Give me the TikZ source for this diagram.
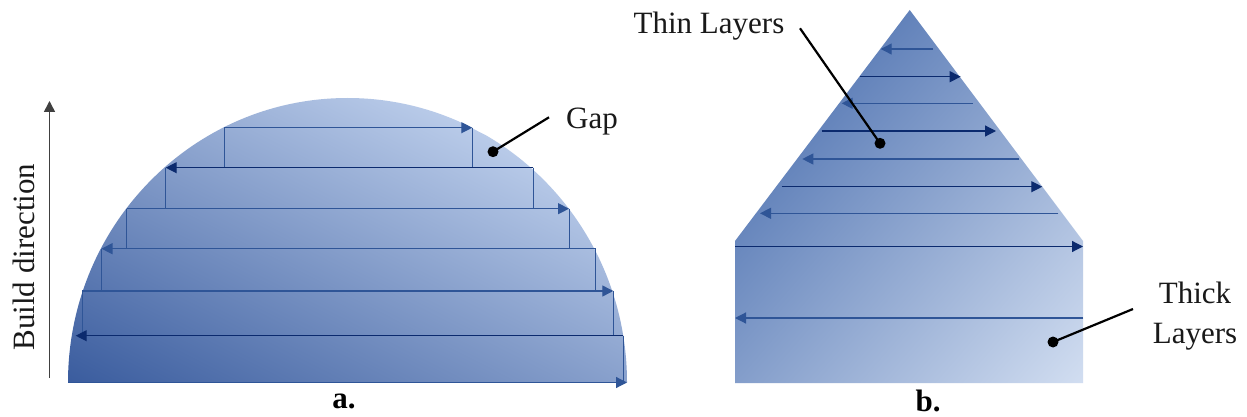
\documentclass[tikz,border=0pt]{standalone}
\usepackage{fontspec}
\setmainfont{Liberation Serif}
\usetikzlibrary{arrows.meta}
\definecolor{navyline}{HTML}{0B2A6E}
\definecolor{midline}{HTML}{2F5597}
\definecolor{aStart}{HTML}{3A5C9E}
\definecolor{aEnd}{HTML}{B9CBE9}
\definecolor{bStart}{HTML}{6282BA}
\definecolor{bEnd}{HTML}{D2DEF1}
\tikzset{
  navytrack/.style={draw=navyline,line width=1.2pt,-{Triangle[length=11pt,width=11pt]}},
  midtrack/.style={draw=midline,line width=1.2pt,-{Triangle[length=11pt,width=11pt]}},
  riser/.style={draw=midline,line width=1pt},
  leader/.style={draw=black,line width=2.2pt},
  dot/.style={circle,fill=black,inner sep=0pt,minimum size=11pt},
  lbl/.style={font=\fontsize{31}{31}\selectfont,inner sep=0pt,text=black!90},
  figcap/.style={font=\fontsize{31}{31}\selectfont\bfseries,inner sep=0pt},
}
\begin{document}
\begin{tikzpicture}[x=1pt,y=-1pt]
\useasboundingbox (0,0) rectangle (1247,417);
\fill[white] (0,0) rectangle (1247,417);
% --- dome a
\begin{scope}
  \clip (68,382.5) arc[start angle=180,end angle=0,x radius=279.5pt,y radius=284.5pt] -- cycle;
  \shade[transform canvas={rotate around={63:(68,382.5)}},left color=aStart,right color=aEnd]
    (68,-400) rectangle (478,1100);
\end{scope}
% risers a
\draw[riser] (623.3,382.5) -- (623.3,335.7);
\draw[riser] (82.3,335.7) -- (82.3,291);
\draw[riser] (613.3,291) -- (613.3,335.7);
\draw[riser] (595.7,248.7) -- (595.7,291);
\draw[riser] (101.5,248.7) -- (101.5,291);
\draw[riser] (126.7,208.7) -- (126.7,248.7);
\draw[riser] (569,208.7) -- (569,248.7);
\draw[riser] (533.3,167.7) -- (533.3,208.7);
\draw[riser] (165.7,167.7) -- (165.7,208.7);
\draw[riser] (224.3,127.7) -- (224.3,167.7);
\draw[riser] (472.3,127.7) -- (472.3,167.7);
% tracks a
\draw[midtrack] (68,382.5) -- (627,382.5);
\draw[navytrack] (623.3,335.7) -- (75.7,335.7);
\draw[midtrack] (82.3,291) -- (613.3,291);
\draw[midtrack] (595.7,248.7) -- (101.5,248.7);
\draw[midtrack] (126.7,208.7) -- (569,208.7);
\draw[navytrack] (533.3,167.7) -- (165.7,167.7);
\draw[midtrack] (224.3,127.7) -- (472.3,127.7);
% --- spire b
\begin{scope}
  \clip (909.7,10) -- (1083,241) -- (1083,383) -- (735,383) -- (735,241) -- cycle;
  \shade[transform canvas={rotate around={-41:(909.7,10)}},left color=bStart,right color=bEnd]
    (909.7,-600) rectangle (1286,900);
\end{scope}
\draw[midtrack] (933.3,49) -- (880.7,49);
\draw[navytrack] (860,76.7) -- (960.7,76.7);
\draw[midtrack] (972.7,103.3) -- (841.7,103.3);
\draw[navytrack] (821.7,131) -- (996,131);
\draw[midtrack] (1019.3,159) -- (802.3,159);
\draw[navytrack] (781.7,186.7) -- (1042.3,186.7);
\draw[midtrack] (1058.3,213.3) -- (760,213.3);
\draw[navytrack] (735,246.5) -- (1083,246.5);
\draw[midtrack] (1083,318) -- (735,318);
% build direction
\coordinate (buildfoot) at (49.5,378);
\coordinate (buildtip) at (49.5,101);
\draw[draw=black!75,line width=1.6pt,-{Triangle[length=11pt,width=11pt]}] (buildfoot) -- (buildtip);
\node[lbl,rotate=90] (builddir) at (24,257) {Build direction};
% labels and leaders
\node[lbl] (gap) at (592,122) {Gap};
\node[dot] (gapdot) at (493,151.7) {};
\coordinate (gapend) at (549,117.3);
\draw[leader] (gapdot.center) -- (gapend);
\node[lbl] (thin) at (709,26) {Thin Layers};
\node[dot] (thindot) at (880,143.3) {};
\coordinate (thinend) at (800,28.3);
\draw[leader] (thindot.center) -- (thinend);
\node[lbl,align=center,font=\fontsize{31}{40}\selectfont] (thick) at (1195,316) {Thick\\Layers};
\node[dot] (thickdot) at (1053,342) {};
\coordinate (thickend) at (1133,309);
\draw[leader] (thickdot.center) -- (thickend);
\node[figcap] (capa) at (344,401) {a.};
\node[figcap] (capb) at (928,400.5) {b.};
\end{tikzpicture}
\end{document}
